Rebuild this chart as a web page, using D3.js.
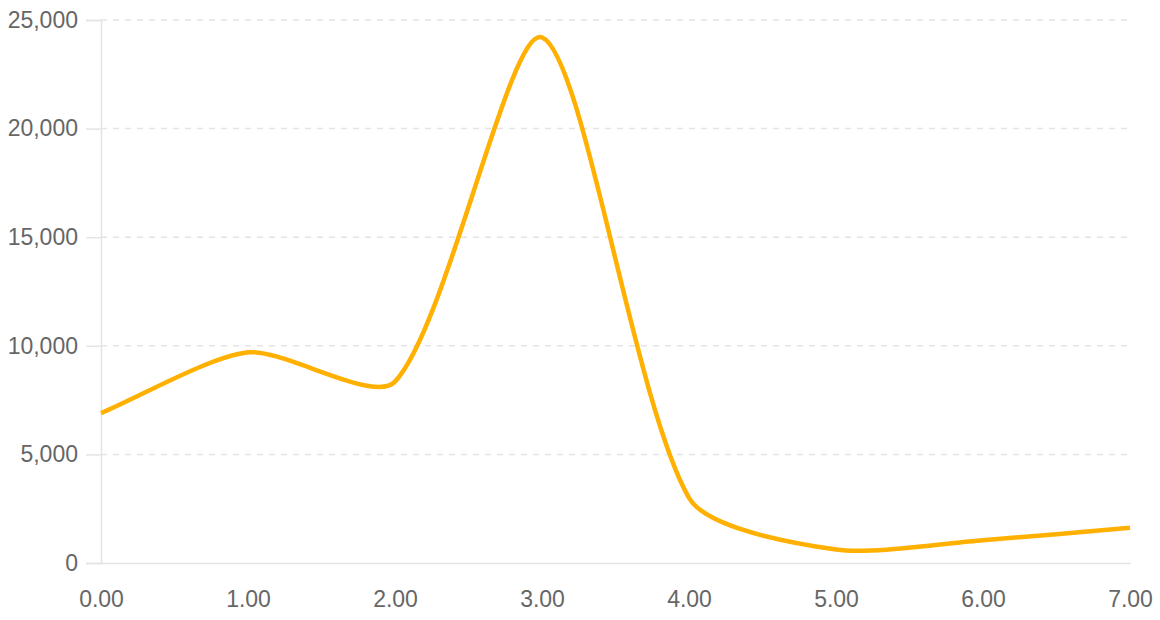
<!DOCTYPE html>
<html>
<head>
<meta charset="utf-8">
<script src="https://cdn.jsdelivr.net/npm/d3@7"></script>
<style>
  body { margin: 0; background: #fff; }
  svg { display: block; font-family: "Liberation Sans", Arial, Helvetica, sans-serif; }
</style>
</head>
<body>
<svg id="chart" width="1160" height="620"></svg>
<script>
const xValues = [0, 1, 2, 3, 4, 5, 6, 7]
const yValues = [6900, 9700, 8350, 24200, 3000, 620, 1050, 1620]
const yTicks = [0, 5000, 10000, 15000, 20000, 25000]
const xTicks = [0, 1, 2, 3, 4, 5, 6, 7]

const width = 1160, height = 620
const margin = {top: 20, right: 30, bottom: 57, left: 101}
const lineColor = '#ffb000'
const gridColor = '#e4e4e4'
const labelColor = '#666'
const tension = 0.25

const svg = d3.select('#chart')

const x = d3.scaleLinear()
    .domain([0, 7])
    .range([margin.left, width - margin.right])
const y = d3.scaleLinear()
    .domain([0, 25000])
    .range([height - margin.bottom, margin.top])

// horizontal dashed grid
svg.append('g')
    .selectAll('line')
    .data(yTicks.filter(d => d > 0))
    .join('line')
    .attr('x1', margin.left)
    .attr('x2', width - margin.right)
    .attr('y1', d => y(d))
    .attr('y2', d => y(d))
    .attr('stroke', gridColor)
    .attr('stroke-width', 1.5)
    .attr('stroke-dasharray', '6,6')

// y axis
const yAxis = svg.append('g')
    .attr('transform', `translate(${margin.left},0)`)
    .call(d3.axisLeft(y).tickValues(yTicks).tickSize(15).tickPadding(8).tickFormat(d3.format(',')))
yAxis.select('.domain').attr('stroke', gridColor).attr('stroke-width', 1.5)
yAxis.selectAll('.tick line').attr('stroke', gridColor).attr('stroke-width', 1.5)
yAxis.selectAll('.tick text')
    .attr('fill', labelColor)
    .attr('font-size', 23)

// x axis
const xAxis = svg.append('g')
    .attr('transform', `translate(0,${height - margin.bottom})`)
    .call(d3.axisBottom(x).tickValues(xTicks).tickSize(0).tickPadding(28).tickFormat(d3.format('.2f')))
xAxis.select('.domain').attr('stroke', gridColor).attr('stroke-width', 1.5)
xAxis.selectAll('.tick text')
    .attr('fill', labelColor)
    .attr('font-size', 23)

// tension spline: control points lie on the prev->next direction
const pts = xValues.map((d, i) => [x(d), y(yValues[i])])
const cps = pts.map((p, i) => {
    const prev = pts[i - 1] || p
    const next = pts[i + 1] || p
    const d01 = Math.hypot(p[0] - prev[0], p[1] - prev[1])
    const d12 = Math.hypot(next[0] - p[0], next[1] - p[1])
    const s01 = (d01 + d12) ? d01 / (d01 + d12) : 0
    const s12 = (d01 + d12) ? d12 / (d01 + d12) : 0
    const fa = tension * s01, fb = tension * s12
    return {
        prev: [p[0] - fa * (next[0] - prev[0]), p[1] - fa * (next[1] - prev[1])],
        next: [p[0] + fb * (next[0] - prev[0]), p[1] + fb * (next[1] - prev[1])]
    }
})

const path = d3.path()
path.moveTo(pts[0][0], pts[0][1])
for (let i = 1; i < pts.length; i++) {
    const c1 = cps[i - 1].next, c2 = cps[i].prev
    path.bezierCurveTo(c1[0], c1[1], c2[0], c2[1], pts[i][0], pts[i][1])
}

svg.append('path')
    .attr('d', path.toString())
    .attr('fill', 'none')
    .attr('stroke', lineColor)
    .attr('stroke-width', 4.5)
    .attr('stroke-linejoin', 'round')
</script>
</body>
</html>
